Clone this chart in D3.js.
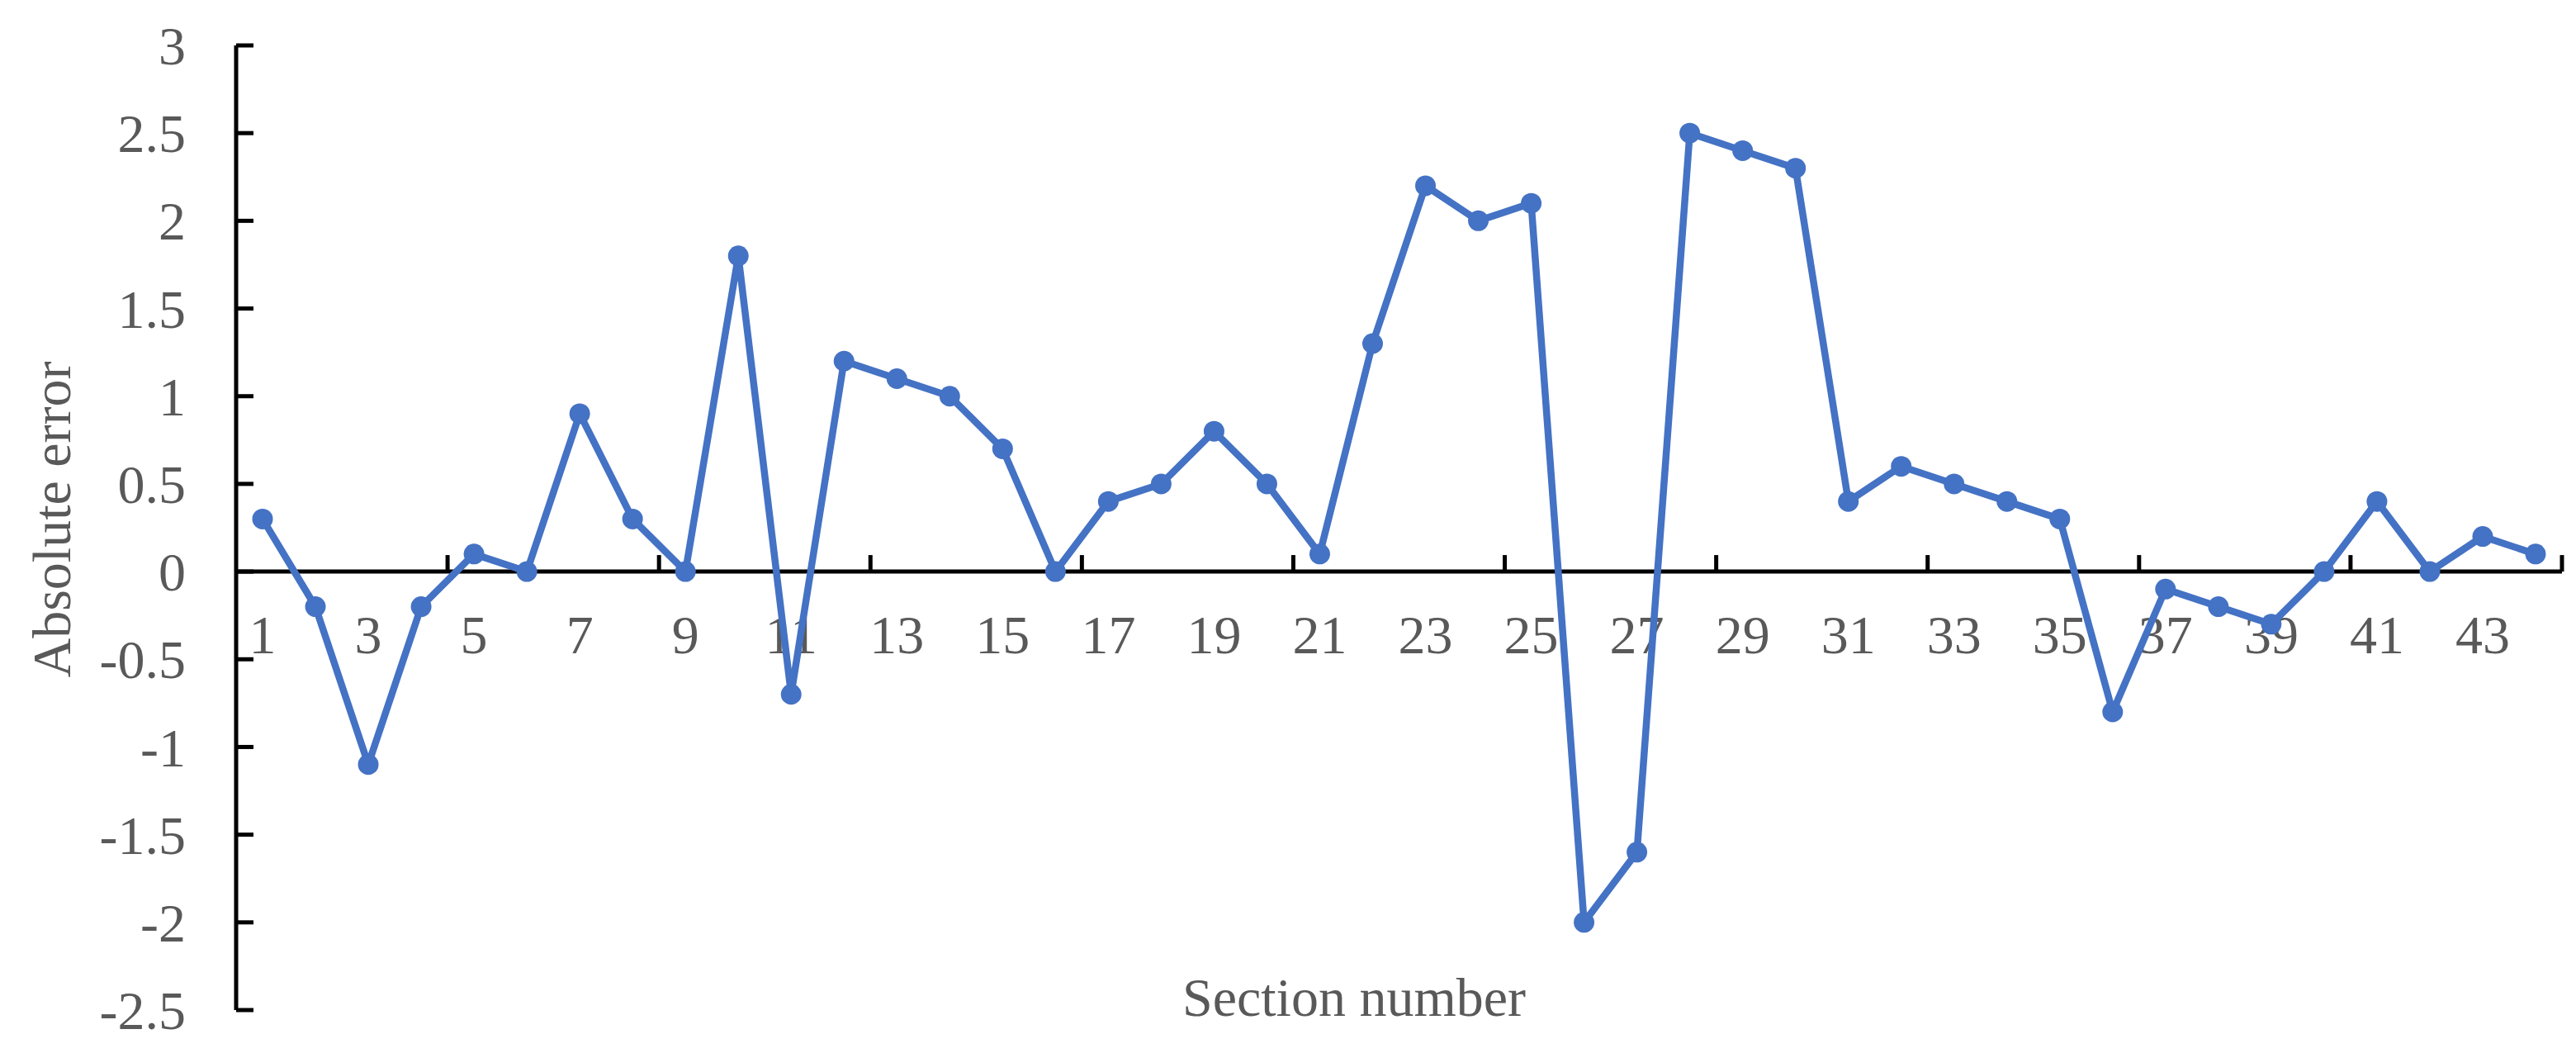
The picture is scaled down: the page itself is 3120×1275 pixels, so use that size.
<!DOCTYPE html>
<html><head><meta charset="utf-8">
<script src="https://cdn.jsdelivr.net/npm/d3@7"></script>
<style>body{margin:0;background:#fff}</style></head>
<body><svg id="c" width="3120" height="1275"></svg>
<script>
const categories = d3.range(1,45).map(String);
const values = [0.3,-0.2,-1.1,-0.2,0.1,0,0.9,0.3,0,1.8,-0.7,1.2,1.1,1.0,0.7,0,0.4,0.5,0.8,0.5,0.1,1.3,2.2,2.0,2.1,-2.0,-1.6,2.5,2.4,2.3,0.4,0.6,0.5,0.4,0.3,-0.8,-0.1,-0.2,-0.3,0,0.4,0,0.2,0.1];
const yTicks = [-2.5,-2,-1.5,-1,-0.5,0,0.5,1,1.5,2,2.5,3];
const svg = d3.select("#c");
const L=286,R=3103,T=55,B=1223;
const x = d3.scaleBand().domain(categories).range([L,R]);
const y = d3.scaleLinear().domain([-2.5,3]).range([B,T]);
const font="'Liberation Serif','Times New Roman',serif", tc="#595959";
// y axis
svg.append("line").attr("x1",L).attr("x2",L).attr("y1",T).attr("y2",B).attr("stroke","#000").attr("stroke-width",5);
yTicks.forEach(t=>{
  svg.append("line").attr("x1",L).attr("x2",L+21).attr("y1",y(t)).attr("y2",y(t)).attr("stroke","#000").attr("stroke-width",5);
  svg.append("text").attr("x",225).attr("y",y(t)).attr("dy","0.35em").attr("text-anchor","end")
    .attr("font-family",font).attr("font-size",66).attr("fill",tc).text(t);
});
// x axis at zero
const y0=y(0);
svg.append("line").attr("x1",L).attr("x2",R).attr("y1",y0).attr("y2",y0).attr("stroke","#000").attr("stroke-width",5);
for(let i=4;i<=44;i+=4){
  const xx=L+x.step()*i;
  svg.append("line").attr("x1",xx).attr("x2",xx).attr("y1",y0).attr("y2",y0-20).attr("stroke","#000").attr("stroke-width",5);
}
categories.forEach((c,i)=>{ if(i%2===0)
  svg.append("text").attr("x",x(c)+x.bandwidth()/2).attr("y",768).attr("dy","0.35em").attr("text-anchor","middle")
   .attr("font-family",font).attr("font-size",66).attr("fill",tc).text(c);});
// line
const cx=(d,i)=>x(categories[i])+x.bandwidth()/2;
svg.append("path").datum(values).attr("fill","none").attr("stroke","#4472C4").attr("stroke-width",8.5)
  .attr("stroke-linejoin","round").attr("d",d3.line().x(cx).y(d=>y(d)));
svg.selectAll("circle").data(values).join("circle").attr("cx",cx).attr("cy",d=>y(d)).attr("r",12.5).attr("fill","#4472C4");
// titles
svg.append("text").attr("transform","translate(62,"+((T+B)/2-10)+") rotate(-90)").attr("dy","0.35em").attr("text-anchor","middle")
  .attr("font-family",font).attr("font-size",66).attr("fill",tc).text("Absolute error");
svg.append("text").attr("x",1640).attr("y",1207).attr("dy","0.35em").attr("text-anchor","middle")
  .attr("font-family",font).attr("font-size",66).attr("fill",tc).text("Section number");
</script></body></html>
